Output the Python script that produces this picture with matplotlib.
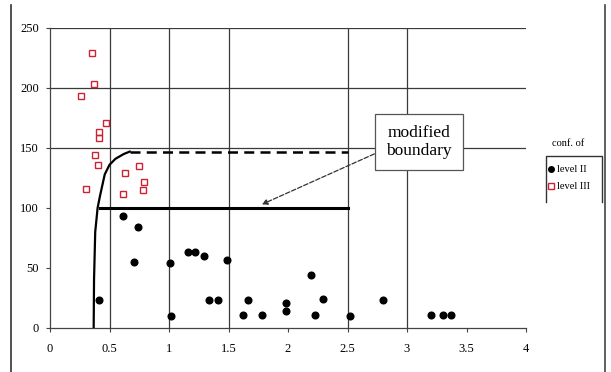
import matplotlib.pyplot as plt
from matplotlib.lines import Line2D

plt.rcParams['font.family'] = ['Liberation Serif', 'DejaVu Serif']

# level II points (black dots)
lvl2_x = [0.41, 0.61, 0.74, 0.71, 1.01, 1.02, 1.16, 1.22, 1.29, 1.49, 1.34, 1.41,
          1.62, 1.66, 1.78, 1.98, 1.98, 2.19, 2.23, 2.29, 2.52, 2.80, 3.20, 3.30, 3.37]
lvl2_y = [23, 93, 84, 55, 54, 10, 63, 63, 60, 57, 23, 23,
          11, 23, 11, 21, 14, 44, 11, 24, 10, 23, 11, 11, 11]

# level III points (red open squares)
lvl3_x = [0.35, 0.26, 0.37, 0.47, 0.41, 0.41, 0.38, 0.40, 0.63, 0.75, 0.30, 0.79, 0.78, 0.61]
lvl3_y = [229, 193, 203, 171, 163, 158, 144, 136, 129, 135, 116, 122, 115, 112]

# boundary curve
curve_x = [0.367, 0.37, 0.38, 0.40, 0.42, 0.46, 0.50, 0.55, 0.62, 0.67]
curve_y = [0, 40, 80, 100, 110, 128, 136, 141, 145, 147]
dash_x = [0.67, 2.5]
dash_y = [147, 147]
mod_x = [0.42, 2.5]
mod_y = [100, 100]

fig = plt.figure(figsize=(6.11, 3.72), dpi=100)
ax = fig.add_axes([50/611, 44/372, 476/611, 300/372])

gc = '#3a3a3a'
for gx in [0.5, 1, 1.5, 2.5, 3]:
    ax.axvline(gx, color=gc, lw=0.9, zorder=1)
for gy in [150, 200, 250]:
    ax.axhline(gy, color=gc, lw=0.9, zorder=1)

ax.plot(curve_x, curve_y, color='black', lw=1.6, zorder=3)
ax.plot(dash_x, dash_y, color='black', lw=1.8, ls=(0, (4, 2.5)), zorder=3)
ax.plot(mod_x, mod_y, color='black', lw=2.2, zorder=3)

ax.plot(lvl2_x, lvl2_y, 'o', color='black', ms=4.8, zorder=4)
ax.plot(lvl3_x, lvl3_y, 's', mfc='none', mec='#cc2233', mew=1.0, ms=5, zorder=4)

ax.annotate('modified\nboundary', xy=(1.78, 103), xytext=(3.1, 155),
            ha='center', va='center', fontsize=12.5, linespacing=1.1,
            bbox=dict(boxstyle='square,pad=0.65', fc='white', ec='#555555', lw=0.9),
            arrowprops=dict(arrowstyle='-|>', color='#333333', lw=0.9, ls='--',
                            mutation_scale=8, shrinkA=0, shrinkB=0,
                            relpos=(0, 0.3)),
            zorder=5)

ax.set_xlim(0, 4)
ax.set_ylim(0, 250)
ax.set_xticks([0, 0.5, 1, 1.5, 2, 2.5, 3, 3.5, 4])
ax.set_xticklabels(['0', '0.5', '1', '1.5', '2', '2.5', '3', '3.5', '4'])
ax.set_yticks([0, 50, 100, 150, 200, 250])
ax.tick_params(labelsize=9, length=3, width=0.8, color='#444444')
ax.tick_params(axis='x', pad=8)
ax.tick_params(axis='y', pad=5)
for s in ['top', 'right']:
    ax.spines[s].set_visible(False)
for s in ['left', 'bottom']:
    ax.spines[s].set_color('#444444')
    ax.spines[s].set_linewidth(0.9)

# legend
handles = [Line2D([], [], marker='o', color='black', ls='none', ms=4),
           Line2D([], [], marker='s', mfc='none', mec='#cc2233', ls='none', ms=4)]
leg = fig.legend(handles, ['level II', 'level III'], loc='upper left',
                 bbox_to_anchor=(546/611, 1 - 163/372), frameon=False,
                 fontsize=7.5, handlelength=0.6, handletextpad=0.3,
                 labelspacing=0.75, borderaxespad=0, borderpad=0.2)
fig.text(568/611, 1 - 143/372, 'conf. of', ha='center', va='center', fontsize=7.5)
fig.add_artist(Line2D([546/611, 546/611, 602/611, 602/611],
                      [1 - 202/372, 1 - 156/372, 1 - 156/372, 1 - 202/372],
                      color='#333333', lw=1.0))

# outer page border lines
fig.add_artist(Line2D([11/611, 11/611], [0, 1 - 5/372], color='#333333', lw=1.2))
fig.add_artist(Line2D([605/611, 605/611], [0, 1 - 5/372], color='#444444', lw=1.2))

fig.savefig('out.png', dpi=100)
